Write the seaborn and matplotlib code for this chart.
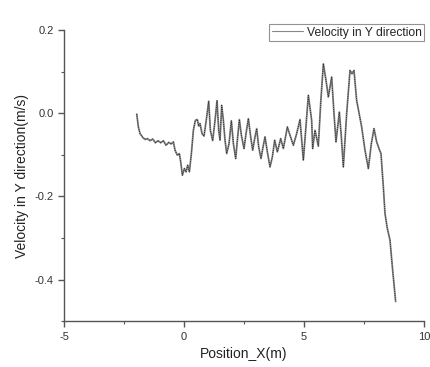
import numpy as np
import pandas as pd
import seaborn as sns
import matplotlib.pyplot as plt
from matplotlib.ticker import MultipleLocator

# data
position_x = [-1.972, -1.903, -1.833, -1.722, -1.625, -1.528, -1.417, -1.306, -1.194, -1.083,
              -0.972, -0.861, -0.75, -0.639, -0.542, -0.444, -0.375, -0.278, -0.194, -0.139,
              -0.069, 0.014, 0.083, 0.153, 0.222, 0.306, 0.389, 0.472, 0.556, 0.611,
              0.667, 0.75, 0.833, 0.944, 1.028, 1.097, 1.194, 1.292, 1.375, 1.444,
              1.5, 1.569, 1.639, 1.708, 1.778, 1.875, 1.972, 2.056, 2.153, 2.222,
              2.306, 2.389, 2.5, 2.583, 2.681, 2.778, 2.861, 2.944, 3.028, 3.111,
              3.208, 3.292, 3.375, 3.472, 3.583, 3.681, 3.778, 3.889, 4.028, 4.139,
              4.306, 4.417, 4.556, 4.694, 4.833, 4.972, 5.069, 5.181, 5.319, 5.361,
              5.458, 5.597, 5.694, 5.806, 5.917, 6.014, 6.153, 6.25, 6.333, 6.472,
              6.556, 6.639, 6.778, 6.917, 7.0, 7.083, 7.194, 7.403, 7.542, 7.681,
              7.806, 7.917, 8.028, 8.125, 8.208, 8.306, 8.375, 8.472, 8.583, 8.694,
              8.819]
velocity_y = [-0.002, -0.033, -0.049, -0.058, -0.063, -0.061, -0.066, -0.062, -0.071, -0.066,
              -0.071, -0.066, -0.077, -0.070, -0.074, -0.069, -0.089, -0.101, -0.097, -0.117,
              -0.149, -0.133, -0.141, -0.125, -0.141, -0.097, -0.041, -0.017, -0.015, -0.031,
              -0.025, -0.049, -0.055, -0.009, 0.029, -0.041, -0.066, -0.017, 0.030, -0.041,
              -0.065, 0.019, -0.017, -0.065, -0.097, -0.073, -0.018, -0.073, -0.109, -0.065,
              -0.015, -0.053, -0.085, -0.049, -0.013, -0.057, -0.089, -0.061, -0.037, -0.081,
              -0.109, -0.081, -0.057, -0.093, -0.129, -0.105, -0.065, -0.093, -0.061, -0.085,
              -0.033, -0.053, -0.077, -0.049, -0.015, -0.113, -0.041, 0.043, -0.017, -0.085,
              -0.041, -0.079, 0.023, 0.119, 0.079, 0.039, 0.087, -0.001, -0.069, 0.003,
              -0.057, -0.129, -0.001, 0.103, 0.095, 0.103, 0.031, -0.033, -0.089, -0.133,
              -0.073, -0.037, -0.069, -0.085, -0.097, -0.177, -0.241, -0.277, -0.305, -0.377,
              -0.453]

df = pd.DataFrame({"x": position_x, "v": velocity_y})

sns.set_style("ticks")
plt.rcParams['font.family'] = ['Liberation Sans', 'DejaVu Sans']

fig = plt.figure(figsize=(4.3, 3.67), dpi=100)
ax = fig.add_axes([0.149, 0.125, 0.837, 0.793])

# grey line with a dark dotted overlay, like the original export
sns.lineplot(data=df, x="x", y="v", sort=False, ax=ax, color="#8a8a8a",
             linewidth=1.3, label="Velocity in Y direction")
ax.plot(position_x, velocity_y, color="#2a2a2a", linewidth=0.7, linestyle=(0, (1, 1.2)))

ax.set_xlim(-5, 10)
ax.set_ylim(-0.5, 0.2)
ax.xaxis.set_major_locator(MultipleLocator(5))
ax.xaxis.set_minor_locator(MultipleLocator(2.5))
ax.yaxis.set_major_locator(MultipleLocator(0.2))
ax.yaxis.set_minor_locator(MultipleLocator(0.1))
ax.yaxis.set_major_formatter(plt.FuncFormatter(lambda v, p: f"{v:.1f}"))
ax.xaxis.set_major_formatter(plt.FuncFormatter(lambda v, p: f"{v:g}"))

for s in ["top", "right"]:
    ax.spines[s].set_visible(False)
for s in ["left", "bottom"]:
    ax.spines[s].set_color("#555555")
    ax.spines[s].set_linewidth(1.0)
ax.tick_params(which="major", length=4, width=1, color="#555555", labelsize=8, labelcolor="#333333")
ax.tick_params(which="minor", length=2.5, width=0.8, color="#555555")

ax.set_xlabel("Position_X(m)", fontsize=10, color="#222222")
ax.set_ylabel("Velocity in Y direction(m/s)", fontsize=10, color="#222222")

leg = ax.legend(loc="upper right", bbox_to_anchor=(1.0, 1.02), fontsize=8.7,
                frameon=True, fancybox=False, borderaxespad=0, handlelength=2.6,
                borderpad=0.2, handletextpad=0.3)
leg.get_frame().set_edgecolor("#777777")
leg.get_frame().set_linewidth(0.8)
leg.get_lines()[0].set_color("#888888")
leg.get_lines()[0].set_linewidth(0.8)

fig.savefig("out.png", dpi=100)
